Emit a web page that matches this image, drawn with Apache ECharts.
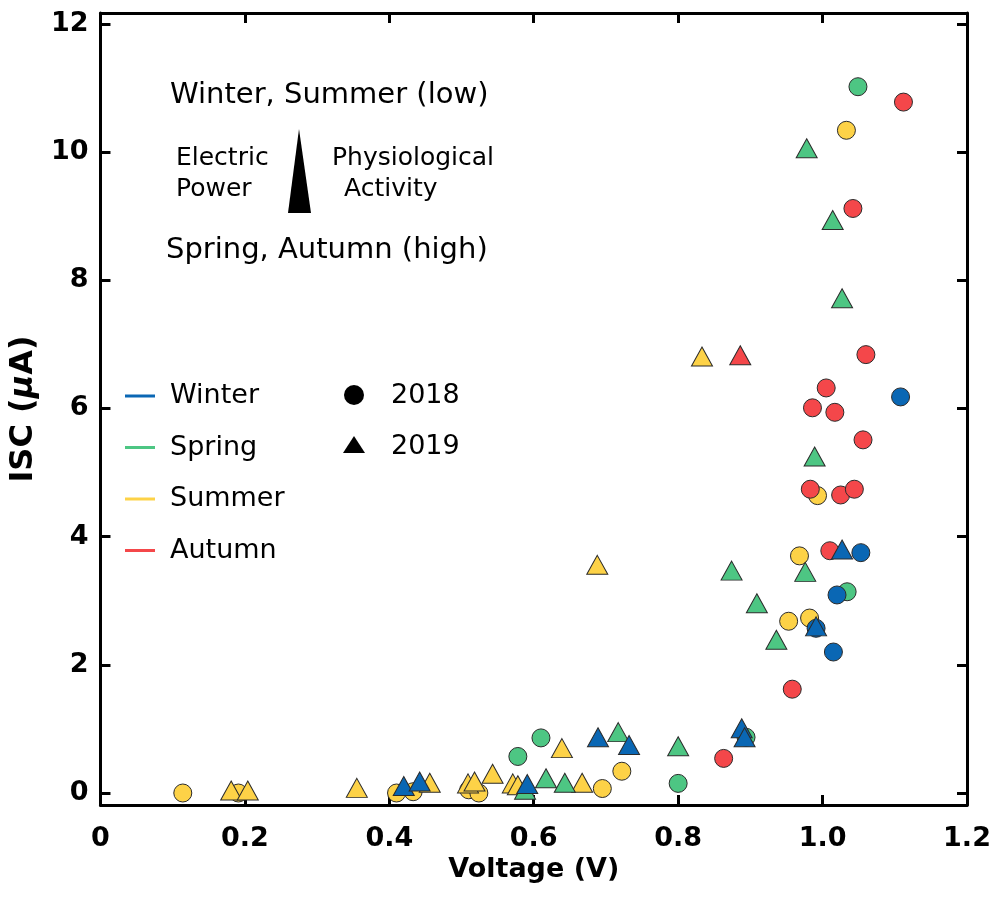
<!DOCTYPE html>
<html lang="en">
<head>
    <meta charset="UTF-8">
    <title>ISC vs Voltage</title>
    <script src="https://cdn.jsdelivr.net/npm/echarts@6/dist/echarts.min.js"></script>
    <style>
        html, body { margin: 0; padding: 0; background: #fff; }
    </style>
</head>
<body>
<div id="main" style="width: 999px;height:898px;"></div>
<script>
    // [voltage (V), ISC (uA)]
    var summer2018 = [[0.114, 0.0], [0.191, 0.0], [0.41, 0.0], [0.433, 0.02], [0.51, 0.05], [0.524, 0.0],
        [0.695, 0.07], [0.722, 0.34], [0.953, 2.68], [0.982, 2.73], [0.968, 3.70], [0.993, 4.64], [1.033, 10.34]];
    var summer2019 = [[0.181, 0.04], [0.204, 0.04], [0.355, 0.08], [0.456, 0.16], [0.509, 0.15], [0.518, 0.18],
        [0.543, 0.30], [0.571, 0.15], [0.578, 0.12], [0.639, 0.70], [0.667, 0.16], [0.688, 3.56], [0.833, 6.81]];
    var spring2018 = [[0.578, 0.57], [0.61, 0.86], [0.8, 0.15], [0.894, 0.87], [1.034, 3.14], [1.049, 11.02]];
    var spring2019 = [[0.588, 0.05], [0.617, 0.23], [0.643, 0.16], [0.717, 0.95], [0.8, 0.73], [0.874, 3.47],
        [0.909, 2.96], [0.936, 2.39], [0.976, 3.45], [0.989, 5.25], [1.027, 7.72], [1.014, 8.94], [0.978, 10.06]];
    var autumn2018 = [[0.863, 0.54], [0.958, 1.62], [1.01, 3.78], [0.983, 4.74], [1.025, 4.65], [1.044, 4.74],
        [1.056, 5.51], [0.986, 6.01], [1.017, 5.94], [1.005, 6.32], [1.06, 6.84], [1.042, 9.12], [1.112, 10.78]];
    var autumn2019 = [[0.886, 6.83]];
    var winter2018 = [[1.108, 6.18], [1.053, 3.75], [1.02, 3.09], [0.991, 2.57], [1.015, 2.20]];
    var winter2019 = [[0.42, 0.11], [0.442, 0.18], [0.591, 0.14], [0.689, 0.87], [0.732, 0.75], [0.888, 1.01],
        [0.892, 0.87], [0.991, 2.60], [1.027, 3.80]];

    var seasons = ['Winter', 'Spring', 'Summer', 'Autumn'];
    var years = ['2018', '2019'];
    var yTicks = [0, 2, 4, 6, 8, 10, 12];

    var colors = {Winter: '#0a67b4', Spring: '#4dc683', Summer: '#fdd247', Autumn: '#f4474a'};
    var font = 'DejaVu Sans';

    function makeSeries(name, data, color, year) {
        return {
            name: name + ' ' + year,
            type: 'scatter',
            data: data,
            symbol: year === '2018' ? 'circle' : 'triangle',
            symbolSize: year === '2018' ? 18 : [21, 19],
            itemStyle: {color: color, borderColor: '#2b2b2b', borderWidth: 1, opacity: 1},
            emphasis: {disabled: true}
        };
    }

    function frameAxis(extra) {
        var ax = {
            type: 'value',
            axisLine: {show: true, onZero: false, lineStyle: {color: '#000', width: 3}},
            axisTick: {show: true, inside: true, length: 10, lineStyle: {color: '#000', width: 3}},
            splitLine: {show: false}
        };
        for (var k in extra) ax[k] = extra[k];
        return ax;
    }

    var labelStyle = {color: '#000', fontFamily: font, fontWeight: 'bold', fontSize: 27};

    var graphics = [];
    // legend: seasons (colored lines)
    for (var i = 0; i < seasons.length; i++) {
        var ly = 396 + i * 51.5;
        graphics.push({type: 'line', shape: {x1: 125, y1: ly, x2: 155, y2: ly},
            style: {stroke: colors[seasons[i]], lineWidth: 3}});
        graphics.push({type: 'text', x: 170, y: ly,
            style: {text: seasons[i], font: '27px "' + font + '"', fill: '#000', verticalAlign: 'middle'}});
    }
    // legend: years (symbols)
    graphics.push({type: 'circle', shape: {cx: 354, cy: 395, r: 10}, style: {fill: '#000'}});
    graphics.push({type: 'text', x: 391, y: 396,
        style: {text: years[0], font: '27px "' + font + '"', fill: '#000', verticalAlign: 'middle'}});
    graphics.push({type: 'polygon', shape: {points: [[354, 436], [343, 453], [365, 453]]}, style: {fill: '#000'}});
    graphics.push({type: 'text', x: 391, y: 447,
        style: {text: years[1], font: '27px "' + font + '"', fill: '#000', verticalAlign: 'middle'}});

    // annotation
    var notes = [
        ['Winter, Summer (low)', 170, 95, 29],
        ['Electric', 176, 158, 25],
        ['Power', 176, 189, 25],
        ['Physiological', 332, 158, 25],
        ['Activity', 344, 189, 25],
        ['Spring, Autumn (high)', 166, 250, 29]
    ];
    for (var j = 0; j < notes.length; j++) {
        graphics.push({type: 'text', x: notes[j][1], y: notes[j][2],
            style: {text: notes[j][0], font: notes[j][3] + 'px "' + font + '"', fill: '#000', verticalAlign: 'middle'}});
    }
    graphics.push({type: 'polygon', shape: {points: [[299, 129], [288, 213], [311, 213]]}, style: {fill: '#000'}});

    var chart = echarts.init(document.getElementById('main'));
    chart.setOption({
        backgroundColor: '#fff',
        animation: false,
        grid: {left: 95, right: 32, top: 13, bottom: 93},
        xAxis: [
            frameAxis({
                position: 'bottom', min: 0, max: 1.2, interval: 0.2,
                axisLabel: {margin: 20, color: '#000', fontFamily: font, fontWeight: 'bold', fontSize: 27,
                    formatter: function (v) { return v === 0 ? '0' : v.toFixed(1); }},
                name: 'Voltage (V)', nameLocation: 'middle', nameGap: 48,
                nameTextStyle: labelStyle
            }),
            frameAxis({position: 'top', min: 0, max: 1.2, interval: 0.2, axisLabel: {show: false}})
        ],
        yAxis: [
            frameAxis({
                position: 'left', min: -0.187, max: 12.17,
                axisTick: {show: true, inside: true, length: 10, customValues: yTicks, lineStyle: {color: '#000', width: 3}},
                axisLabel: {margin: 12, customValues: yTicks, color: '#000', fontFamily: font, fontWeight: 'bold', fontSize: 27},
                name: 'ISC ({i|\u03bc}A)', nameLocation: 'middle', nameGap: 50,
                nameTextStyle: {color: '#000', fontFamily: font, fontWeight: 'bold', fontSize: 32,
                    rich: {i: {fontStyle: 'italic', fontFamily: font, fontWeight: 'bold', fontSize: 32, color: '#000'}}}
            }),
            frameAxis({
                position: 'right', min: -0.187, max: 12.17,
                axisTick: {show: true, inside: true, length: 10, customValues: yTicks, lineStyle: {color: '#000', width: 3}},
                axisLabel: {show: false}
            })
        ],
        series: [
            makeSeries('Summer', summer2018, colors.Summer, '2018'),
            makeSeries('Summer', summer2019, colors.Summer, '2019'),
            makeSeries('Spring', spring2018, colors.Spring, '2018'),
            makeSeries('Spring', spring2019, colors.Spring, '2019'),
            makeSeries('Autumn', autumn2018, colors.Autumn, '2018'),
            makeSeries('Autumn', autumn2019, colors.Autumn, '2019'),
            makeSeries('Winter', winter2018, colors.Winter, '2018'),
            makeSeries('Winter', winter2019, colors.Winter, '2019')
        ],
        graphic: graphics
    });
</script>
</body>
</html>
